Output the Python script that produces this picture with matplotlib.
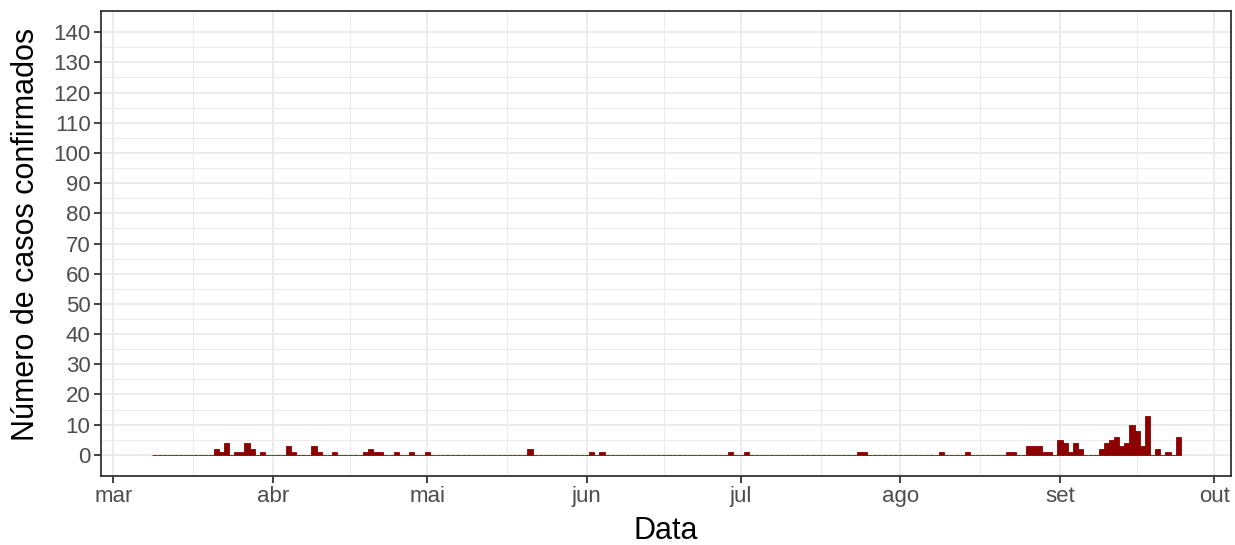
import matplotlib
matplotlib.use("Agg")
import matplotlib.pyplot as plt
import matplotlib.dates as mdates
import numpy as np
import pandas as pd

plt.rcParams['font.family'] = ['Liberation Sans', 'DejaVu Sans']

# daily confirmed cases (days not listed are zero)
start_date = "2020-03-09"
end_date = "2020-09-24"
case_dates = [
    "2020-03-21", "2020-03-22", "2020-03-23", "2020-03-25", "2020-03-26",
    "2020-03-27", "2020-03-28", "2020-03-30", "2020-04-04", "2020-04-05",
    "2020-04-09", "2020-04-10", "2020-04-13", "2020-04-19", "2020-04-20",
    "2020-04-21", "2020-04-22", "2020-04-25", "2020-04-28", "2020-05-01",
    "2020-05-21", "2020-06-02", "2020-06-04", "2020-06-29", "2020-07-02",
    "2020-07-24", "2020-07-25", "2020-08-09", "2020-08-14", "2020-08-22",
    "2020-08-23", "2020-08-26", "2020-08-27", "2020-08-28", "2020-08-29",
    "2020-08-30", "2020-09-01", "2020-09-02", "2020-09-03", "2020-09-04",
    "2020-09-05", "2020-09-09", "2020-09-10", "2020-09-11", "2020-09-12",
    "2020-09-13", "2020-09-14", "2020-09-15", "2020-09-16", "2020-09-17",
    "2020-09-18", "2020-09-20", "2020-09-22", "2020-09-24",
]
case_counts = [
    2, 1, 4, 1, 1,
    4, 2, 1, 3, 1,
    3, 1, 1, 1, 2,
    1, 1, 1, 1, 1,
    2, 1, 1, 1, 1,
    1, 1, 1, 1, 1,
    1, 3, 3, 3, 1,
    1, 5, 4, 1, 4,
    2, 2, 4, 5, 6,
    3, 4, 10, 8, 3,
    13, 2, 1, 6,
]
month_labels = ["mar", "abr", "mai", "jun", "jul", "ago", "set", "out"]

days = pd.date_range(start_date, end_date, freq="D")
series = pd.Series(0, index=days)
series[pd.to_datetime(case_dates)] = case_counts

fig = plt.figure(figsize=(12.35, 5.45), dpi=100)
ax = fig.add_axes([101 / 1235, 69 / 545, 1130 / 1235, 465 / 545])

ax.bar(series.index, series.values, width=1.0, color="#8B0000",
       edgecolor="#8B0000", linewidth=0.6, zorder=3)

# axes limits (ggplot-like expansion)
month_starts = pd.date_range("2020-03-01", "2020-10-01", freq="MS")
ax.set_xlim(mdates.date2num(month_starts[0]) - 2.39,
            mdates.date2num(month_starts[-1]) + 3.25)
ax.set_ylim(-7, 147)

ax.set_xticks(month_starts)
ax.set_xticklabels(month_labels)
mids = [mdates.date2num(month_starts[i]) / 2 + mdates.date2num(month_starts[i + 1]) / 2
        for i in range(len(month_starts) - 1)]
ax.set_xticks(mids, minor=True)
ax.set_yticks(np.arange(0, 141, 10))
ax.set_yticks(np.arange(5, 141, 10), minor=True)

ax.grid(which="major", color="#EBEBEB", linewidth=1.5, zorder=0)
ax.grid(which="minor", color="#EBEBEB", linewidth=0.75, zorder=0)
ax.set_axisbelow(True)

for sp in ax.spines.values():
    sp.set_color("#333333")
    sp.set_linewidth(1.3)

ax.tick_params(which="major", length=5, width=1.3, color="#333333",
               labelcolor="#4D4D4D", labelsize=16, pad=2.5)
ax.tick_params(which="minor", length=0)

ax.set_xlabel("Data", fontsize=22, labelpad=6)
ax.set_ylabel("Número de casos confirmados", fontsize=22, labelpad=6)
ax.yaxis.set_label_coords(-0.053, 0.52)

fig.savefig("out.png", dpi=100)
